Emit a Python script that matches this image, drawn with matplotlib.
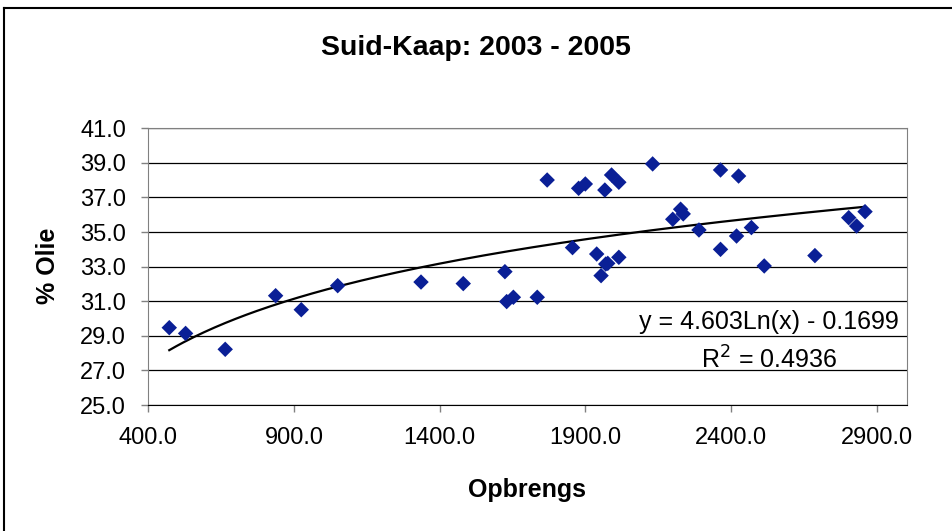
import numpy as np
import matplotlib.pyplot as plt
from matplotlib.lines import Line2D

plt.rcParams['font.family'] = ['Liberation Sans', 'DejaVu Sans']

# opbrengs (x) en % olie (y), afgelees van die grafiek
opbrengs = [472, 528, 664, 837, 925, 1050, 1336, 1481, 1624, 1630, 1653,
            1735, 1769, 1856, 1877, 1900, 1939, 1954, 1967, 1970, 1977,
            1990, 2015, 2015, 2131, 2200, 2227, 2236, 2290, 2364, 2364,
            2419, 2426, 2470, 2514, 2688, 2804, 2831, 2860]
olie = [29.47, 29.14, 28.22, 31.32, 30.51, 31.90, 32.11, 32.02, 32.71, 30.98, 31.23,
        31.23, 38.01, 34.10, 37.53, 37.78, 33.73, 32.48, 37.43, 33.15, 33.19,
        38.30, 37.88, 33.54, 38.94, 35.74, 36.32, 36.05, 35.12, 38.59, 34.00,
        34.77, 38.24, 35.26, 33.04, 33.64, 35.83, 35.35, 36.18]

# logaritmiese tendenslyn soos op die grafiek
trend_a = 4.603
trend_b = -0.1699

x_ticks = [400, 900, 1400, 1900, 2400, 2900]
y_ticks = [25, 27, 29, 31, 33, 35, 37, 39, 41]

fig = plt.figure(figsize=(9.52, 5.31), dpi=100)
ax = fig.add_axes([148.3 / 952, 1 - 405 / 531, (906.7 - 148.3) / 952, (405 - 128.3) / 531])

x = np.array(opbrengs, dtype=float)
xs = np.linspace(x.min(), x.max(), 200)
ax.plot(xs, trend_a * np.log(xs) + trend_b, color='black', lw=1.6, zorder=3)
ax.scatter(x, olie, marker='D', s=62, color='#0A1F96', edgecolors='none', zorder=4)

ax.set_xlim(400, 3003)
ax.set_ylim(25, 41)
ax.set_xticks(x_ticks)
ax.set_yticks(y_ticks)
ax.set_xticklabels([f'{v:.1f}' for v in x_ticks], fontsize=17)
ax.set_yticklabels([f'{v:.1f}' for v in y_ticks], fontsize=17)
ax.tick_params(direction='out', length=5, width=1, color='#808080', pad=11)

ax.grid(axis='y', color='black', lw=0.9)
ax.set_axisbelow(True)
for side in ['left', 'top', 'right']:
    ax.spines[side].set_color('#808080')
ax.spines['bottom'].set_color('black')

fig.text(476 / 952, 1 - 48 / 531, 'Suid-Kaap: 2003 - 2005', fontsize=20.5,
         fontweight='bold', ha='center', va='center')
fig.text(527 / 952, 1 - 490 / 531, 'Opbrengs', fontsize=18,
         fontweight='bold', ha='center', va='center')
fig.text(48 / 952, 1 - 266 / 531, '% Olie', fontsize=18, fontweight='bold',
         ha='center', va='center', rotation=90)

fig.text(769 / 952, 1 - 322 / 531, 'y = 4.603Ln(x) - 0.1699', fontsize=18,
         ha='center', va='center')
fig.text(769 / 952, 1 - 360 / 531, 'R$^2$ = 0.4936', fontsize=18,
         ha='center', va='center')

# rand van die grafiekarea (net bo en links sigbaar)
fig.add_artist(Line2D([4 / 952, 1], [1 - 7.5 / 531] * 2, color='black', lw=1.5))
fig.add_artist(Line2D([4 / 952] * 2, [0, 1 - 7.5 / 531], color='black', lw=1.5))

fig.savefig('out.png', dpi=100)
